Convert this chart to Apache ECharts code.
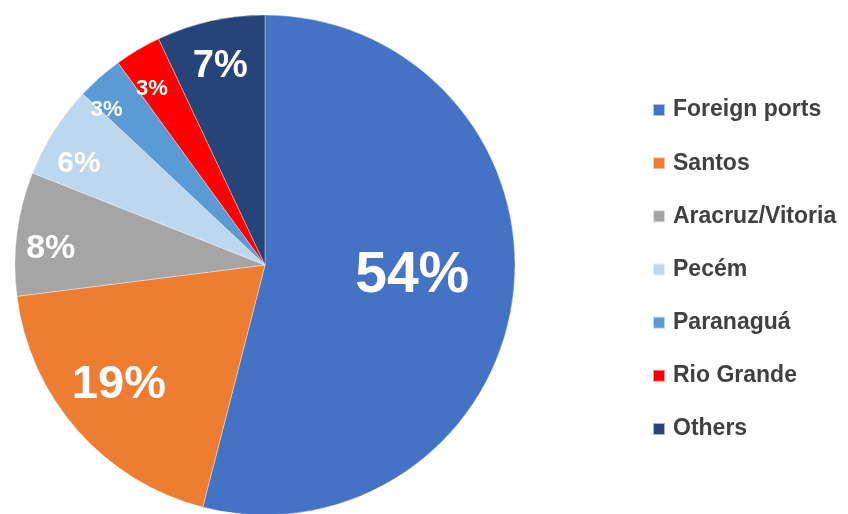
<!DOCTYPE html>
<html>
<head>
<meta charset="utf-8">
<script src="https://cdn.jsdelivr.net/npm/echarts@6/dist/echarts.min.js"></script>
<style>
  html, body { margin: 0; padding: 0; background: #ffffff; }
  #chart { width: 848px; height: 514px; }
</style>
</head>
<body>
<div id="chart"></div>
<script>
// ---- Data ----
var categories = ['Foreign ports', 'Santos', 'Aracruz/Vitoria', 'Pecém', 'Paranaguá', 'Rio Grande', 'Others'];
var shares = [54, 19, 8, 6, 3, 3, 7];

// ---- Styling (not data) ----
var sliceColors = ['#4472C4', '#ED7D31', '#A5A5A5', '#BDD7EE', '#5B9BD5', '#FF0000', '#264478'];
var labelFontSizes = [57, 47, 34, 30, 22, 22, 38];
var labelRadiusFrac = [0.59, 0.751, 0.86, 0.85, 0.89, 0.84, 0.82];
var labelAngleShift = [-3.65, 2.5, -2.5, -3.5, -4, -2, 0]; // degrees, clockwise

var CX = 265, CY = 265, R = 250;

var chart = echarts.init(document.getElementById('chart'), null, { renderer: 'canvas' });

var seriesData = categories.map(function (name, i) {
  return {
    name: name,
    value: shares[i],
    itemStyle: { color: sliceColors[i] },
    label: { fontSize: labelFontSizes[i] }
  };
});

chart.setOption({
  backgroundColor: '#ffffff',
  animation: false,
  legend: {
    orient: 'vertical',
    left: 652,
    top: 98.5,
    padding: 0,
    icon: 'rect',
    itemWidth: 12,
    itemHeight: 12,
    itemGap: 30.17,
    data: categories,
    textStyle: {
      fontFamily: 'Liberation Sans, Arial, sans-serif',
      fontWeight: 'bold',
      fontSize: 23,
      lineHeight: 23,
      color: '#404040',
      padding: [0, 0, 0, 3]
    }
  },
  series: [{
    type: 'pie',
    center: [CX, CY],
    radius: [0, R],
    startAngle: 90,
    clockwise: true,
    avoidLabelOverlap: false,
    data: seriesData,
    itemStyle: { borderColor: 'rgba(255,255,255,0.6)', borderWidth: 0.6 },
    label: {
      show: true,
      position: 'inside',
      formatter: '{c}%',
      color: '#ffffff',
      fontFamily: 'Liberation Sans, Arial, sans-serif',
      fontWeight: 'bold'
    },
    labelLine: { show: false },
    emphasis: { disabled: true }
  }]
});

// Move each inside label (placed by the library at the slice's mid-angle)
// radially outward / slightly around, matching the reference placement.
chart.setOption({
  series: [{
    labelLayout: function (params) {
      var i = params.dataIndex;
      var lr = params.labelRect;
      var lx = lr.x + lr.width / 2;
      var ly = lr.y + lr.height / 2;
      var vx = lx - CX, vy = ly - CY;
      var ang = Math.atan2(vx, -vy) + labelAngleShift[i] * Math.PI / 180;
      var target = labelRadiusFrac[i] * R;
      var nx = Math.sin(ang) * target;
      var ny = -Math.cos(ang) * target;
      return { dx: nx - vx, dy: ny - vy + labelFontSizes[i] * 0.04 };
    }
  }]
});
</script>
</body>
</html>
